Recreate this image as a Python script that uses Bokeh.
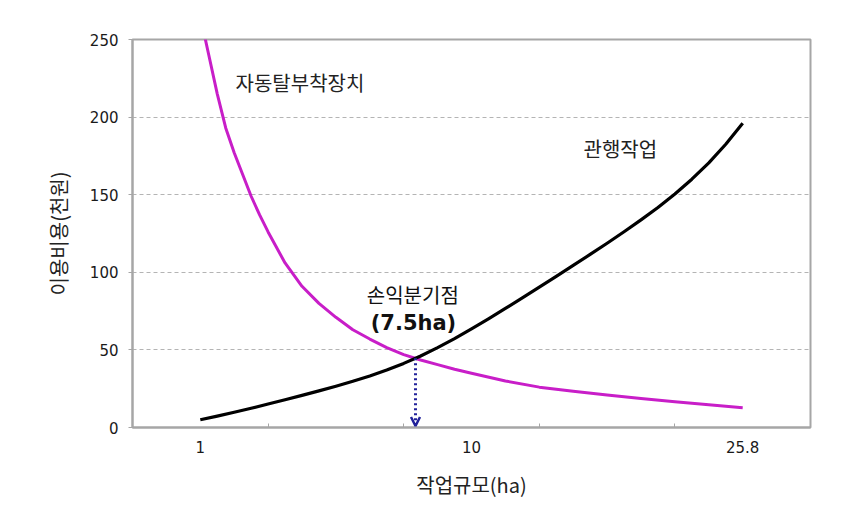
from bokeh.plotting import figure
from bokeh.models import Range1d, FixedTicker, Label, Arrow, OpenHead, ColumnDataSource
from bokeh.embed import file_html
from bokeh.resources import INLINE

# ---- data (x given as position on the chart's category-like scale axis) ----
conv_pos = [0, 0.125, 0.25, 0.375, 0.5, 0.625, 0.75, 0.875, 1.0, 1.125, 1.25, 1.375,
            1.5, 1.625, 1.75, 1.875, 2.0, 2.125, 2.25, 2.375, 2.5, 2.625, 2.75, 2.875,
            3.0, 3.125, 3.25, 3.375, 3.5, 3.625, 3.75, 3.875, 4.0]
cost_conventional = [5, 7.3, 9.8, 12.4, 15.1, 17.9, 20.7, 23.6, 26.6, 29.8, 33.2, 37,
                     41.3, 46.1, 51.5, 57.3, 63.5, 70, 76.7, 83.5, 90.4, 97.4, 104.4, 111.5,
                     118.7, 126.1, 133.8, 141.8, 150.5, 160, 170.5, 182.5, 196]

auto_pos = [0, 0.0625, 0.125, 0.1875, 0.25, 0.3125, 0.375, 0.4375, 0.5, 0.625, 0.75,
            0.875, 1.0, 1.125, 1.25, 1.375, 1.5, 1.625, 1.75, 1.875, 2.0, 2.25, 2.5,
            2.75, 3.0, 3.25, 3.5, 3.75, 4.0]
cost_auto_device = [265, 240, 215, 193, 177, 163, 149, 137, 126, 106, 91,
                    80, 71, 63, 57, 51.5, 47, 43.5, 40.5, 37.5, 35, 30, 26,
                    23.3, 21, 18.7, 16.6, 14.6, 12.7]

x_tick_pos = [0, 2, 4]
x_tick_labels = ["1", "10", "25.8"]
y_ticks = [0, 50, 100, 150, 200, 250]

breakeven_pos = 1.587
breakeven_cost = 44.6

series_names = ["관행작업", "자동탈부착장치"]

KR = "Noto Sans CJK KR"

p = figure(width=843, height=512, output_backend="svg", toolbar_location=None,
           x_range=Range1d(-0.5, 4.5), y_range=Range1d(0, 250),
           min_border_left=132, min_border_right=33, min_border_top=39,
           min_border_bottom=85)
p.background_fill_color = "white"
p.border_fill_color = "white"
p.outline_line_color = "#a6a6a6"
p.outline_line_width = 2

src_a = ColumnDataSource(dict(x=auto_pos, y=cost_auto_device))
src_c = ColumnDataSource(dict(x=conv_pos, y=cost_conventional))
p.line("x", "y", source=src_a, line_color="#c81ec8", line_width=3, line_join="round")
p.line("x", "y", source=src_c, line_color="black", line_width=3.2, line_join="round")

# break-even arrow
p.add_layout(Arrow(end=OpenHead(size=9, line_color="#22229a", line_width=2.5),
                   x_start=breakeven_pos, y_start=breakeven_cost,
                   x_end=breakeven_pos, y_end=1.0,
                   line_color="#22229a", line_width=3, line_dash="2 3"))

# axes
xa = p.xaxis[0]
xa.ticker = FixedTicker(ticks=x_tick_pos, minor_ticks=[0.5, 1.5, 2.5, 3.5])
xa.major_label_overrides = {k: v for k, v in zip(x_tick_pos, x_tick_labels)}
xa.major_tick_in = 0
xa.major_tick_out = 0
xa.minor_tick_in = 4
xa.minor_tick_out = 0
xa.minor_tick_line_color = "#a6a6a6"
xa.axis_line_color = "#a6a6a6"
xa.axis_line_width = 2
xa.major_label_text_font = "DejaVu Sans"
xa.major_label_text_font_size = "15px"
xa.major_label_text_color = "#1a1a1a"
xa.major_label_standoff = 13
xa.axis_label = "작업규모(ha)"
xa.axis_label_text_font = KR
xa.axis_label_text_font_size = "20px"
xa.axis_label_text_font_style = "normal"
xa.axis_label_text_color = "#222222"
xa.axis_label_standoff = 14

ya = p.yaxis[0]
ya.ticker = FixedTicker(ticks=y_ticks)
ya.major_tick_in = 0
ya.major_tick_out = 4
ya.major_tick_line_color = "#a6a6a6"
ya.minor_tick_line_color = None
ya.axis_line_color = "#a6a6a6"
ya.axis_line_width = 2
ya.major_label_text_font = "DejaVu Sans"
ya.major_label_text_font_size = "15px"
ya.major_label_text_color = "#1a1a1a"
ya.major_label_standoff = 10
ya.axis_label = "이용비용(천원)"
ya.axis_label_text_font = KR
ya.axis_label_text_font_size = "20px"
ya.axis_label_text_font_style = "normal"
ya.axis_label_text_color = "#222222"
ya.axis_label_standoff = 14

p.xgrid.grid_line_color = None
p.ygrid.grid_line_color = "#b4b4b4"
p.ygrid.grid_line_dash = "4 3"
p.ygrid.grid_line_width = 1

# annotations
p.add_layout(Label(x=0.26, y=222, text=series_names[1], text_font=KR,
                   text_font_size="20px", text_baseline="middle", text_align="left",
                   text_color="#222222"))
p.add_layout(Label(x=2.826, y=180, text=series_names[0], text_font=KR,
                   text_font_size="20px", text_baseline="middle", text_align="left",
                   text_color="#222222"))
p.add_layout(Label(x=breakeven_pos - 0.02, y=86, text="손익분기점", text_font=KR,
                   text_font_size="20px", text_baseline="middle", text_align="center",
                   text_color="#111111"))
p.add_layout(Label(x=breakeven_pos - 0.015, y=67.5, text="(7.5ha)", text_font="DejaVu Sans",
                   text_font_size="21px", text_font_style="bold",
                   text_baseline="middle", text_align="center", text_color="#111111"))

open("out.html", "w").write(file_html(p, INLINE))
